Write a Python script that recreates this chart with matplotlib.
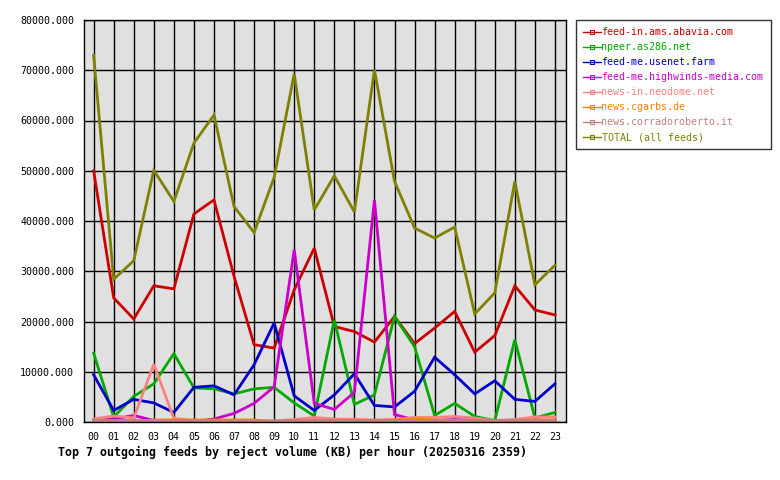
import numpy as np
import matplotlib
matplotlib.use("Agg")
from matplotlib import pyplot as plt
from matplotlib.lines import Line2D

hours = ["%02d" % h for h in range(24)]

feeds = [
    "feed-in.ams.abavia.com",
    "npeer.as286.net",
    "feed-me.usenet.farm",
    "feed-me.highwinds-media.com",
    "news-in.neodome.net",
    "news.cgarbs.de",
    "news.corradoroberto.it",
    "TOTAL (all feeds)",
]
colors = ["#cc0000", "#00aa00", "#0000cc", "#cc00cc",
          "#ff8080", "#ff8000", "#c08080", "#808000"]

abavia = [50000, 24700, 20500, 27100, 26500, 41400, 44200, 29000, 15400, 14700,
          26300, 34600, 19000, 18000, 15900, 21000, 15600, 18700, 22000, 13900,
          17200, 27100, 22300, 21300]
as286 = [13700, 1000, 5100, 7600, 13600, 6800, 6600, 5600, 6600, 6900,
         3800, 1200, 20300, 3500, 5400, 21000, 15000, 1300, 3700, 1100,
         300, 16400, 800, 1900]
usenet_farm = [9400, 2300, 4500, 3800, 1900, 6900, 7200, 5400, 11400, 19700,
               5200, 2300, 5400, 9600, 3300, 3000, 6100, 12900, 9400, 5600,
               8200, 4500, 4100, 7600]
highwinds = [300, 600, 1300, 300, 100, 100, 600, 1700, 3700, 7000,
             34300, 3700, 2500, 5900, 44200, 1500, 400, 300, 500, 300,
             100, 200, 300, 300]
neodome = [600, 1200, 800, 11500, 700, 300, 200, 200, 200, 200,
           500, 900, 600, 500, 400, 500, 900, 900, 1100, 800,
           300, 500, 1000, 1000]
cgarbs = [100, 100, 100, 400, 400, 400, 400, 400, 400, 100,
          100, 200, 300, 400, 300, 400, 600, 400, 200, 300,
          200, 300, 400, 400]
corradoroberto = [300, 300, 300, 200, 200, 200, 200, 200, 200, 200,
                  300, 300, 300, 300, 300, 300, 300, 300, 400, 300,
                  300, 300, 300, 300]
total = [73000, 28400, 32100, 50100, 43900, 55500, 61100, 42900, 37700, 48700,
         69300, 42200, 49000, 41800, 70100, 47900, 38600, 36600, 38800, 21500,
         25700, 47900, 27300, 31200]

series = [abavia, as286, usenet_farm, highwinds, neodome, cgarbs,
          corradoroberto, total]

plt.rcParams['font.family'] = ['DejaVu Sans Mono']

fig = plt.figure(figsize=(7.8, 4.8), dpi=100)
ax = fig.add_axes([84 / 780, 1 - 422 / 480, 482 / 780, 402 / 480])
ax.set_facecolor("#e0e0e0")

x = np.arange(24)
for vals, name, c in zip(series, feeds, colors):
    ax.plot(x, vals, color=c, lw=2, label=name, solid_joinstyle='miter')

ax.set_xlim(-0.48, 23.55)
ax.set_ylim(0, 80000)
ax.set_xticks(x)
ax.set_xticklabels(hours)
yt = np.arange(0, 80001, 10000)
ax.set_yticks(yt)
ax.set_yticklabels(["%.3f" % v for v in yt])
ax.grid(True, color="black", lw=1)
ax.set_axisbelow(True)
ax.tick_params(length=0, labelsize=7.2, pad=7)
for s in ax.spines.values():
    s.set_color("black")
    s.set_linewidth(1)

# legend handles: short line with a tiny open square in the middle
handles = [Line2D([0], [0], color=c, lw=1, marker='s', markersize=2.5,
                  markerfacecolor='none', markeredgecolor=c, markeredgewidth=0.8)
           for c in colors]
leg = fig.legend(handles, feeds, loc='upper left',
                 bbox_to_anchor=(576 / 780, 1 - 20 / 480),
                 fontsize=7.2, frameon=True, fancybox=False,
                 edgecolor="black", handlelength=1.8, handletextpad=0.05,
                 labelspacing=0.5, borderpad=0.7, borderaxespad=0)
leg.get_frame().set_linewidth(1)
for txt, c in zip(leg.get_texts(), colors):
    txt.set_color(c)

fig.text(58 / 780, 1 - 452 / 480,
         "Top 7 outgoing feeds by reject volume (KB) per hour (20250316 2359)",
         fontsize=8.4, fontweight='bold', va='center', ha='left')

fig.savefig("out.png", dpi=100, facecolor="white")
